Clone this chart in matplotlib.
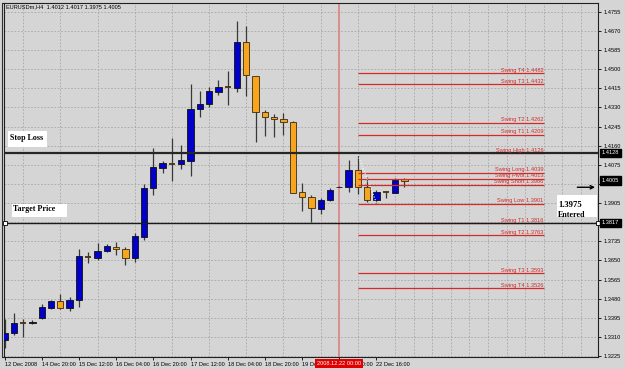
import matplotlib
matplotlib.use('Agg')
import matplotlib.pyplot as plt
import matplotlib.transforms as mtransforms
from matplotlib.patches import Rectangle
import numpy as np

# EURUSDm H4 candles
opens  = [1.3296, 1.3327, 1.3372, 1.3372, 1.3394, 1.3438, 1.3469, 1.3438, 1.3474, 1.3665,
          1.3660, 1.3692, 1.3710, 1.3701, 1.3660, 1.3754, 1.3972, 1.4061, 1.4078, 1.4078,
          1.4092, 1.4323, 1.4345, 1.4398, 1.4421, 1.4416, 1.4621, 1.4469, 1.4309, 1.4287,
          1.4278, 1.4265, 1.3954, 1.3932, 1.3878, 1.3918, 1.3976, 1.3976, 1.4052, 1.3976,
          1.3918, 1.3954, 1.3949, 1.4012]
highs  = [1.3389, 1.3416, 1.3389, 1.3385, 1.3456, 1.3474, 1.3500, 1.3487, 1.3701, 1.3687,
          1.3727, 1.3723, 1.3732, 1.3710, 1.3772, 1.3989, 1.4149, 1.4092, 1.4194, 1.4163,
          1.4434, 1.4403, 1.4421, 1.4452, 1.4492, 1.4714, 1.4692, 1.4469, 1.4318, 1.4301,
          1.4305, 1.4269, 1.3994, 1.3941, 1.3927, 1.3972, 1.3980, 1.4096, 1.4118, 1.4021,
          1.3963, 1.3958, 1.4016, 1.4017]
lows   = [1.3261, 1.3318, 1.3309, 1.3367, 1.3389, 1.3434, 1.3434, 1.3425, 1.3443, 1.3638,
          1.3652, 1.3687, 1.3674, 1.3629, 1.3643, 1.3741, 1.3941, 1.4038, 1.4003, 1.4056,
          1.4025, 1.4287, 1.4332, 1.4385, 1.4341, 1.4398, 1.4381, 1.4176, 1.4203, 1.4198,
          1.4207, 1.3949, 1.3869, 1.3821, 1.3856, 1.3914, 1.3974, 1.3954, 1.3945, 1.3909,
          1.3905, 1.3927, 1.3949, 1.3975]
closes = [1.3327, 1.3372, 1.3372, 1.3376, 1.3443, 1.3469, 1.3438, 1.3474, 1.3669, 1.3665,
          1.3692, 1.3714, 1.3701, 1.3660, 1.3758, 1.3972, 1.4065, 1.4083, 1.4078, 1.4096,
          1.4323, 1.4345, 1.4403, 1.4421, 1.4421, 1.4621, 1.4474, 1.4309, 1.4287, 1.4278,
          1.4265, 1.3949, 1.3932, 1.3883, 1.3918, 1.3963, 1.3978, 1.4052, 1.3976, 1.3918,
          1.3954, 1.3954, 1.4007, 1.4005]

time_ticks  = [0, 4, 8, 12, 16, 20, 24, 28, 32, 36, 40]
time_labels = ['12 Dec 2008', '14 Dec 20:00', '15 Dec 12:00', '16 Dec 04:00', '16 Dec 20:00',
               '17 Dec 12:00', '18 Dec 04:00', '18 Dec 20:00', '19 Dec 12:00', '22 Dec 00:00',
               '22 Dec 16:00']
price_ticks = [1.3225, 1.3310, 1.3395, 1.3480, 1.3565, 1.3650, 1.3735, 1.3820, 1.3905, 1.3990,
               1.4075, 1.4160, 1.4245, 1.4330, 1.4415, 1.4500, 1.4585, 1.4670, 1.4755]

swing_names  = ['Swing T4', 'Swing T3', 'Swing T2', 'Swing T1', 'Swing High', 'Swing Long',
                'Swing Pivot', 'Swing Short', 'Swing Low', 'Swing T1', 'Swing T2', 'Swing T3',
                'Swing T4']
swing_levels = [1.4482, 1.4432, 1.4262, 1.4209, 1.4126, 1.4039, 1.4013, 1.3986, 1.3901, 1.3816,
                1.3763, 1.3593, 1.3526]

stop_loss  = 1.4128
target     = 1.3817
last_price = 1.4005
entry      = 1.3975
cursor_bar = 36
swing_start, swing_end = 38, 58

SANS = ['Liberation Sans', 'DejaVu Sans']
SERIF = ['Liberation Serif', 'DejaVu Serif']
FS = 4.1
BG = '#D5D5D5'
RED = '#D42A2A'

fig = plt.figure(figsize=(6.25, 3.69), dpi=100, facecolor=BG)
ax = fig.add_axes([3.5 / 625, 1 - 357 / 369, (598 - 3.5) / 625, (357 - 3) / 369], facecolor=BG)
ax.set_xlim(-0.11, 63.82)
ax.set_ylim(1.32206, 1.47939)

# grid
ax.set_xticks(np.arange(0, 64, 2), minor=True)
ax.set_yticks(price_ticks)
ax.grid(which='minor', axis='x', color='#a6a6a6', lw=0.6, ls=(0, (2, 2)))
ax.grid(which='major', axis='y', color='#a6a6a6', lw=0.6, ls=(0, (2, 2)))
ax.set_axisbelow(True)

# candles
x = np.arange(len(opens))
o = np.array(opens); h = np.array(highs); l = np.array(lows); c = np.array(closes)
ax.vlines(x, l, h, color='#383838', lw=0.9, zorder=3)
up = c > o
dn = c < o
flat = c == o
ax.bar(x[up], (c - o)[up], bottom=o[up], width=0.68, color='#0000C8', edgecolor='#101010', lw=0.6, zorder=4)
ax.bar(x[dn], (o - c)[dn], bottom=c[dn], width=0.68, color='#F7A51E', edgecolor='#3a2a10', lw=0.6, zorder=4)
ax.hlines(o[flat], x[flat] - 0.34, x[flat] + 0.34, color='#4a3212', lw=1.3, zorder=4)

# cursor line
ax.axvline(cursor_bar, color='#DC8080', lw=1.2, zorder=2)

# swing levels
ax.hlines(swing_levels, swing_start, swing_end, color=RED, lw=0.9, zorder=5)
for name, lev in zip(swing_names, swing_levels):
    ax.text(swing_end - 0.05, lev + 0.0002, f'{name} {lev:.4f}', ha='right', va='bottom',
            fontsize=FS, color=RED, family=SANS, zorder=6)
ax.plot([swing_start, swing_start + 2], [highs[swing_start], lows[swing_start + 2]],
        color='white', lw=0.8, ls=(0, (1, 1.5)), zorder=5)

# stop loss / target lines
ax.axhline(stop_loss, color='#262626', lw=1.6, zorder=5)
ax.axhline(target, color='#1a1a1a', lw=1.0, zorder=5)
ax.plot([0.0, 63.82], [target, target], ls='none', marker='s', ms=2.6, mfc='white',
        mec='black', mew=0.6, zorder=7, clip_on=False)

ax.add_patch(Rectangle((0.38, 1.4154), 4.19, 0.0071, fc='white', ec='none', zorder=6))
ax.text(0.55, 1.4194, 'Stop Loss', fontsize=5.8, fontweight='bold', family=SERIF,
        va='center', ha='left', zorder=7)
ax.add_patch(Rectangle((0.77, 1.3844), 5.92, 0.0057, fc='white', ec='none', zorder=6))
ax.text(0.88, 1.3877, 'Target Price', fontsize=5.8, fontweight='bold', family=SERIF,
        va='center', ha='left', zorder=7)
ax.add_patch(Rectangle((59.41, 1.3843), 4.3, 0.0098, fc='white', ec='none', zorder=6))
ax.text(59.55, 1.3898, f'{entry:.4f}', fontsize=6.2, fontweight='bold', family=SERIF,
        va='center', ha='left', zorder=7)
ax.text(59.55, 1.3850, 'Entered', fontsize=5.8, fontweight='bold', family=SERIF,
        va='center', ha='left', zorder=7)
ax.annotate('', xy=(63.8, entry), xytext=(61.3, entry),
            arrowprops=dict(arrowstyle='->', color='black', lw=1.0, mutation_scale=6), zorder=7)

# axes
for s in ax.spines.values():
    s.set_color('#202020')
    s.set_linewidth(0.8)
ax.yaxis.tick_right()
ax.set_yticklabels([f'{p:.4f}' for p in price_ticks], fontsize=FS, family=SANS)
ax.tick_params(axis='y', which='major', length=2.2, width=0.6, pad=1.5)
ax.set_xticks(time_ticks)
ax.set_xticklabels(time_labels, ha='left', fontsize=FS, family=SANS)
ax.tick_params(axis='x', which='major', length=2.2, width=0.6, pad=1.4)
ax.tick_params(which='minor', length=0)

# price boxes on the axis
ytr = mtransforms.blended_transform_factory(ax.transAxes, ax.transData)
for p in [stop_loss, last_price, target]:
    ax.text(1.006, p, f'{p:.4f}', transform=ytr, fontsize=FS, family=SANS, color='white',
            va='center', ha='left', zorder=8, clip_on=False,
            bbox=dict(boxstyle='square,pad=0.3', fc='black', ec='black'))

xtr = mtransforms.blended_transform_factory(ax.transData, ax.transAxes)
ax.text(cursor_bar, -0.019, '2008.12.22 00:00', transform=xtr, fontsize=FS, family=SANS,
        color='white', ha='center', va='center', zorder=8, clip_on=False,
        bbox=dict(boxstyle='square,pad=0.35', fc='#E00000', ec='none'))

fig.text(6 / 625, 1 - 6.5 / 369, 'EURUSDm,H4  1.4012 1.4017 1.3975 1.4005', fontsize=FS,
         family=SANS, va='center', ha='left')
fig.add_artist(plt.Line2D([2 / 625, 2 / 625], [1 - 357 / 369, 1 - 3 / 369], color='#303030', lw=0.8))

fig.savefig('out.png', dpi=100, facecolor=BG)
